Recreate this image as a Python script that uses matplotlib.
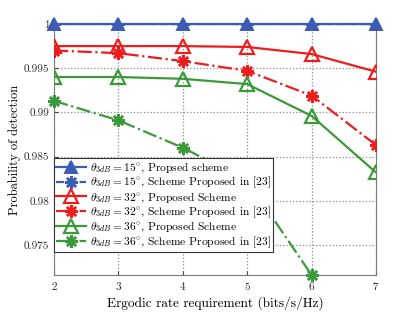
import matplotlib
matplotlib.use("Agg")
import matplotlib.pyplot as plt

plt.rcParams['font.family'] = 'serif'
plt.rcParams['font.serif'] = ['cmr10', 'DejaVu Serif']
plt.rcParams['mathtext.fontset'] = 'cm'
plt.rcParams['axes.formatter.use_mathtext'] = True

# data
rate = [2, 3, 4, 5, 6, 7]
p15_prop = [1.0, 1.0, 1.0, 1.0, 1.0, 1.0]
p15_ref = [1.0, 1.0, 1.0, 1.0, 1.0, 1.0]
p32_prop = [0.9975, 0.9975, 0.9975, 0.9974, 0.9966, 0.9946]
p32_ref = [0.9970, 0.9967, 0.9958, 0.9947, 0.9919, 0.9863]
p36_prop = [0.9940, 0.9940, 0.9938, 0.9932, 0.9896, 0.9832]
p36_ref = [0.9913, 0.9891, 0.9860, 0.9823, 0.9716]
p36_ref_x = [2, 3, 4, 5, 6]

blue = '#3c5cb4'
red = '#ee1d1d'
green = '#3a9a3a'
star = (8, 2, 0)

fig = plt.figure(figsize=(4.15, 3.12), dpi=100)
ax = fig.add_axes([54 / 415, 1 - 275 / 312, 322 / 415, 251 / 312])

ax.plot(rate, p32_prop, '-', color=red, lw=1.6, marker='^', ms=10, mfc='none', mew=1.6,
        label=r'$\theta_{3dB}=32^{\circ}$, Proposed Scheme', zorder=3)
ax.plot(rate, p32_ref, '-.', color=red, lw=1.6, marker=star, ms=9, mew=1.8,
        label=r'$\theta_{3dB}=32^{\circ}$, Scheme Proposed in [23]', zorder=3)
ax.plot(rate, p36_prop, '-', color=green, lw=1.6, marker='^', ms=10, mfc='none', mew=1.6,
        label=r'$\theta_{3dB}=36^{\circ}$, Proposed Scheme', zorder=3)
ax.plot(p36_ref_x, p36_ref, '-.', color=green, lw=1.6, marker=star, ms=9, mew=1.8,
        label=r'$\theta_{3dB}=36^{\circ}$, Scheme Proposed in [23]', zorder=3, clip_on=False)
ax.plot(rate, p15_ref, '--', color=blue, lw=1.6, marker=star, ms=9, mew=1.8,
        label=r'$\theta_{3dB}=15^{\circ}$, Scheme Proposed in [23]', zorder=4)
ax.plot(rate, p15_prop, '-', color=blue, lw=1.6, marker='^', ms=9, mfc=blue, mew=1.4,
        label=r'$\theta_{3dB}=15^{\circ}$, Propsed scheme', zorder=5, clip_on=False)

ax.set_xlim(2, 7)
ax.set_ylim(0.9716, 1.0)
ax.set_xticks(rate)
ax.set_yticks([0.975, 0.98, 0.985, 0.99, 0.995, 1.0])
ax.set_yticklabels(['0.975', '0.98', '0.985', '0.99', '0.995', '1'])
ax.tick_params(direction='in', labelsize=8, colors='#404040', length=3)
for lab in ax.get_xticklabels() + ax.get_yticklabels():
    lab.set_color('#262626')
ax.grid(True, linestyle=':', color='#8a8a8a', lw=0.9)
for s in ax.spines.values():
    s.set_color('#7a7a7a')

ax.set_xlabel('Ergodic rate requirement (bits/s/Hz)', fontsize=9.6, labelpad=3)
ax.set_ylabel('Probability of detection', fontsize=9.0, labelpad=2)

h, l = ax.get_legend_handles_labels()
order = [5, 4, 0, 1, 2, 3]
leg = ax.legend([h[i] for i in order], [l[i] for i in order], loc='upper left',
                bbox_to_anchor=(0.0, 0.465), fontsize=8.3, frameon=True, fancybox=False,
                edgecolor='#333333', framealpha=1, handlelength=2.6, borderpad=0.2,
                labelspacing=0.0, handletextpad=0.3, borderaxespad=0)
leg.get_frame().set_linewidth(0.8)

fig.savefig('out.png', dpi=100)
